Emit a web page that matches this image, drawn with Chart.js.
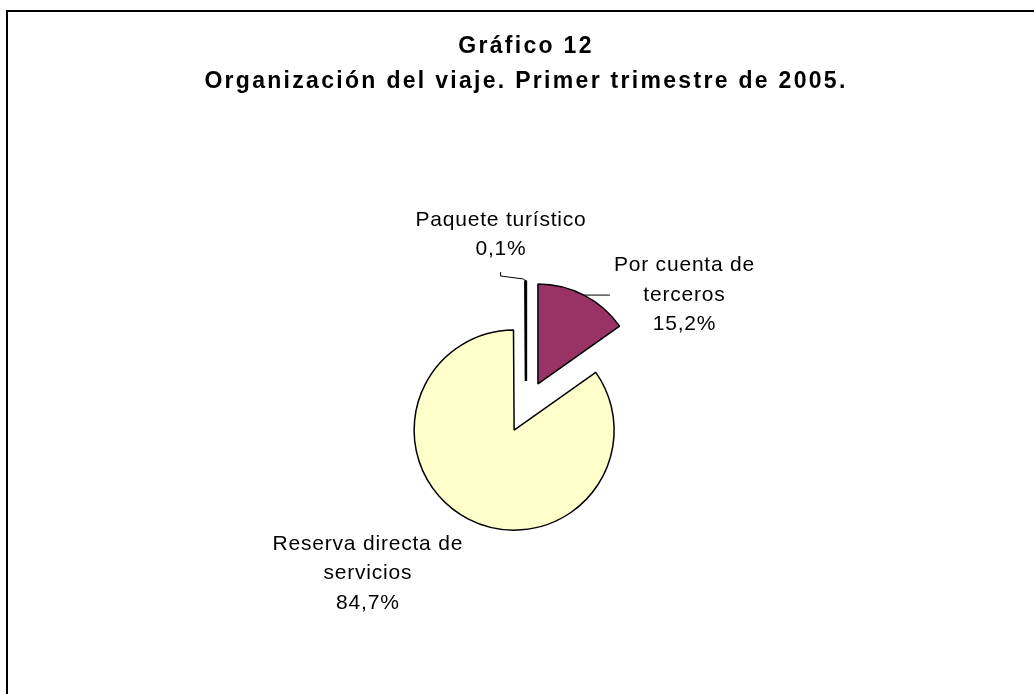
<!DOCTYPE html>
<html>
<head>
<meta charset="utf-8">
<script src="https://cdn.jsdelivr.net/npm/chart.js@4.4.1/dist/chart.umd.min.js"></script>
<style>
  html, body { margin: 0; padding: 0; background: #fff; overflow: hidden; width: 1034px; height: 694px; }
  #frame { position: absolute; left: 6px; top: 10px; width: 1100px; height: 800px;
           border-left: 2px solid #000; border-top: 2px solid #000; }
  #wrap { position: absolute; left: 0; top: 0; width: 1034px; height: 694px; }
</style>
</head>
<body>
<div id="frame"></div>
<div id="wrap"><canvas id="c" width="1034" height="694"></canvas></div>
<script>
// ---- data ----
const categories = ['Por cuenta de terceros', 'Reserva directa de servicios', 'Paquete turístico'];
const labelLines = [['Por cuenta de', 'terceros'], ['Reserva directa de', 'servicios'], ['Paquete turístico']];
const values = [15.2, 84.7, 0.1];
const valueLabels = ['15,2%', '84,7%', '0,1%'];
const titleLines = ['Gráfico 12', 'Organización del viaje. Primer trimestre de 2005.'];

// ---- styles ----
const sliceColors = ['#993366', '#FFFFCC', '#000000'];
const sliceBorders = [1.5, 1.5, 2.5];
const EXPLODE = 26;
const PIE_RADIUS = 100;
const LABEL_FONT = '21px "Liberation Sans", Arial, sans-serif';
const LABEL_SPACING = '0.8px';
const TITLE_SPACING = '2.3px';
const LINE_STEP = 29.5;
// label placement relative to the outer point of each slice's bisector
const labelLayout = [
  { align: 'left',   dx: 30,   dy: -29.5, leader: [[0, 0], [26, 0]] },
  { align: 'center', dx: -101, dy: 25,    leader: null },
  { align: 'center', dx: -25,  dy: -61,   leader: [[0, 0], [-2, -2], [-25, -5], [-25, -9]] }
];

const explodePlugin = {
  id: 'explode',
  beforeDatasetDraw(chart, args) {
    const ctx = chart.ctx;
    ctx.save();
    ctx.letterSpacing = '0px';
    args.meta.data.forEach(arc => {
      const mid = (arc.startAngle + arc.endAngle) / 2;
      ctx.save();
      ctx.translate(Math.cos(mid) * EXPLODE, Math.sin(mid) * EXPLODE);
      arc.draw(ctx, chart.chartArea);
      ctx.restore();
    });
    ctx.restore();
    return false;
  }
};

const spacingPlugin = {
  id: 'titleSpacing',
  beforeDraw(chart) { chart.ctx.letterSpacing = TITLE_SPACING; },
  beforeDatasetsDraw(chart) { chart.ctx.letterSpacing = '0px'; }
};

const labelPlugin = {
  id: 'sliceLabels',
  afterDraw(chart) {
    const ctx = chart.ctx;
    const meta = chart.getDatasetMeta(0);
    ctx.save();
    ctx.font = LABEL_FONT;
    ctx.letterSpacing = LABEL_SPACING;
    ctx.fillStyle = '#000';
    ctx.textBaseline = 'middle';
    ctx.textAlign = 'left';
    meta.data.forEach((arc, i) => {
      const mid = (arc.startAngle + arc.endAngle) / 2;
      const rr = arc.outerRadius + EXPLODE;
      const px = arc.x + Math.cos(mid) * rr;
      const py = arc.y + Math.sin(mid) * rr;
      const lay = labelLayout[i];
      if (lay.leader) {
        ctx.save();
        ctx.strokeStyle = '#000';
        ctx.lineWidth = 1;
        ctx.beginPath();
        lay.leader.forEach((p, k) => {
          const lx = px + p[0], ly = py + p[1];
          if (k === 0) ctx.moveTo(lx, ly); else ctx.lineTo(lx, ly);
        });
        ctx.stroke();
        ctx.restore();
      }
      const lines = labelLines[i].concat([valueLabels[i]]);
      const sp = parseFloat(LABEL_SPACING);
      const widths = lines.map(t => ctx.measureText(t).width - sp);
      const maxW = Math.max(...widths);
      const cx = lay.align === 'left' ? px + lay.dx + maxW / 2 : px + lay.dx;
      lines.forEach((t, k) => {
        ctx.fillText(t, cx - widths[k] / 2, py + lay.dy + k * LINE_STEP);
      });
    });
    ctx.restore();
  }
};

new Chart(document.getElementById('c'), {
  type: 'pie',
  data: {
    labels: categories,
    datasets: [{
      data: values,
      backgroundColor: sliceColors,
      borderColor: '#000',
      borderWidth: sliceBorders,
      radius: PIE_RADIUS
    }]
  },
  options: {
    responsive: false,
    animation: false,
    devicePixelRatio: 1,
    radius: PIE_RADIUS,
    layout: { padding: { left: 18, right: 0, top: 0, bottom: 30 } },
    plugins: {
      legend: { display: false },
      tooltip: { enabled: false },
      title: {
        display: true,
        text: titleLines,
        color: '#000',
        font: { family: '"Liberation Sans", Arial, sans-serif', size: 23, weight: 'bold', lineHeight: 1.53 },
        padding: { top: 29, bottom: 50.6 }
      }
    }
  },
  plugins: [spacingPlugin, explodePlugin, labelPlugin]
});
</script>
</body>
</html>
